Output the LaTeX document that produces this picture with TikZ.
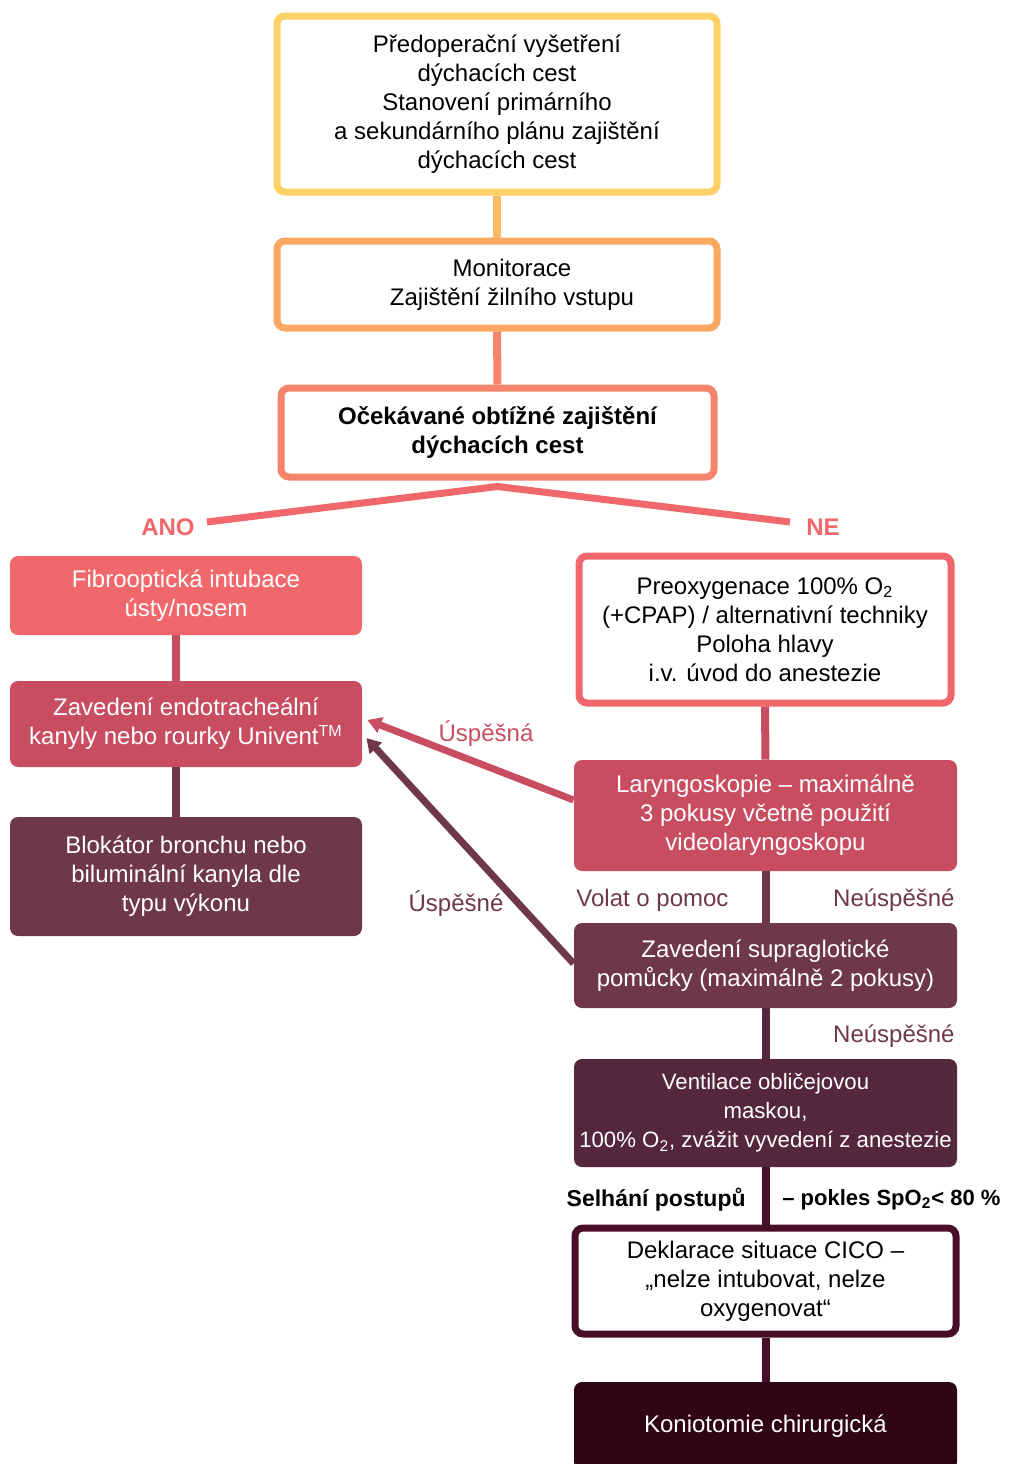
\documentclass[tikz,border=0pt]{standalone}
\usepackage{fontspec}
\setmainfont{Liberation Sans}
\usepackage{xcolor}
\usetikzlibrary{arrows.meta}
\definecolor{AWYellow}{HTML}{FFD166}
\definecolor{AWOrange}{HTML}{F9A862}
\definecolor{AWSalmon}{HTML}{F4846B}
\definecolor{AWCoral}{HTML}{F0686B}
\definecolor{AWRose}{HTML}{C94D61}
\definecolor{AWPlum}{HTML}{6E3848}
\definecolor{AWWine}{HTML}{55273B}
\definecolor{AWDark}{HTML}{4A0F28}
\definecolor{AWNight}{HTML}{2F0515}

\begin{document}
\begin{tikzpicture}[x=0.5pt,y=-0.5pt,
  font=\fontsize{12}{14.5}\selectfont,
  box/.style={rectangle,rounded corners=4pt,align=center,inner sep=0pt},
  openbox/.style={box,draw,line width=3.5pt,fill=white,text=black},
  fullbox/.style={box,text=white,minimum width=191.5pt},
  link/.style={line width=4pt},
  jump/.style={line width=3.5pt,-{Triangle[length=7pt,width=8pt]}},
  tag/.style={inner sep=0pt}]
\path[use as bounding box] (0,0) rectangle (1012,1464);
% main column
\node[openbox,draw=AWYellow,minimum width=220pt,minimum height=88pt] (pred) at (497,104)
  {Předoperační vyšetření\\dýchacích cest\\Stanovení primárního\\a sekundárního plánu zajištění\\dýchacích cest};
\node[openbox,draw=AWOrange,minimum width=220pt,minimum height=43.5pt] (monit) at (497,284.5)
  {\hspace*{15pt}Monitorace\\\hspace*{15pt}Zajištění žilního vstupu};
\node[openbox,draw=AWSalmon,minimum width=216.5pt,minimum height=44.5pt,font=\fontsize{12}{14.5}\selectfont\bfseries] (ocek) at (497.5,432.5)
  {Očekávané obtížné zajištění\\dýchacích cest};
\draw[link,AWYellow!45!AWOrange] (pred.south) -- (monit.north);
\draw[link,AWSalmon] (monit.south) -- (ocek.north);
% split
\coordinate (ano) at (207,522);
\coordinate (ne) at (790,522);
\draw[AWCoral,line width=3.5pt] (ano) -- ([yshift=-3pt]ocek.south) -- (ne);
\node[tag,AWCoral,font=\fontsize{12}{14.5}\selectfont\bfseries] (anotag) at (168,527) {ANO};
\node[tag,AWCoral,font=\fontsize{12}{14.5}\selectfont\bfseries] (netag) at (823,527) {NE};
% left column
\node[fullbox,fill=AWCoral,minimum width=176pt,minimum height=39.5pt] (fibro) at (186,595.5)
  {Fibrooptická intubace\\ústy/nosem};
\node[fullbox,fill=AWRose,minimum width=176pt,minimum height=43pt] (zaved) at (186,724)
  {Zavedení endotracheální\\kanyly nebo rourky Univent\textsuperscript{TM}};
\node[fullbox,fill=AWPlum,minimum width=176pt,minimum height=59.5pt] (blok) at (186,876.5)
  {Blokátor bronchu nebo\\biluminální kanyla dle\\typu výkonu};
\draw[link,AWRose] ([xshift=-5pt]fibro.south) -- ([xshift=-5pt]zaved.north);
\draw[link,AWPlum] ([xshift=-5pt]zaved.south) -- ([xshift=-5pt]blok.north);
% right column
\node[openbox,draw=AWCoral,minimum width=186pt,minimum height=73.5pt] (preox) at (765,629.5)
  {Preoxygenace 100\% O\textsubscript{2}\\(+CPAP) / alternativní techniky\\Poloha hlavy\\i.v. úvod do anestezie};
\node[fullbox,fill=AWRose,minimum height=55.5pt] (laryng) at (765.5,815.5)
  {Laryngoskopie – maximálně\\3 pokusy včetně použití\\videolaryngoskopu};
\node[fullbox,fill=AWPlum,minimum height=42.5pt] (supra) at (765.5,965.5)
  {Zavedení supraglotické\\pomůcky (maximálně 2 pokusy)};
\node[fullbox,fill=AWWine,minimum height=54pt,font=\fontsize{11.1}{14.5}\selectfont] (ventil) at (765.5,1113)
  {Ventilace obličejovou\\maskou,\\100\% O\textsubscript{2}, zvážit vyvedení z anestezie};
\node[openbox,draw=AWDark,minimum width=190.5pt,minimum height=53pt] (cico) at (765.5,1281)
  {Deklarace situace CICO –\\„nelze intubovat, nelze\\oxygenovat“};
\node[fullbox,fill=AWNight,minimum height=44pt] (konio) at (765.5,1426)
  {Koniotomie chirurgická};
\draw[link,AWRose] (preox.south) -- (laryng.north);
\draw[link,AWPlum] (laryng.south) -- (supra.north);
\draw[link,AWWine] (supra.south) -- (ventil.north);
\draw[link,AWDark] (ventil.south) -- (cico.north);
\draw[link,AWDark] (cico.south) -- (konio.north);
% side labels
\node[tag,AWPlum,anchor=west] (volat) at (576,900) {Volat o pomoc};
\node[tag,AWPlum,anchor=east] (neusp1) at (955,900) {Neúspěšné};
\node[tag,AWPlum,anchor=east] (neusp2) at (955,1036) {Neúspěšné};
\node[tag,anchor=east,font=\fontsize{11.5}{14.5}\selectfont\bfseries] (selh) at (746,1200) {Selhání postupů};
\node[tag,anchor=west,font=\fontsize{11}{14.5}\selectfont\bfseries] (pokles) at (782,1200) {– pokles SpO\textsubscript{2}< 80 \%};
% back arrows
\draw[jump,AWRose] ([yshift=7.75pt]laryng.west) -- ([xshift=2.5pt,yshift=2pt]zaved.east);
\draw[jump,AWPlum] ([yshift=1pt]supra.west) -- ([xshift=2pt,yshift=-7pt]zaved.east);
\node[tag,AWRose] (usp1) at (486,734) {Úspěšná};
\node[tag,AWPlum] (usp2) at (456,904) {Úspěšné};
\end{tikzpicture}
\end{document}
